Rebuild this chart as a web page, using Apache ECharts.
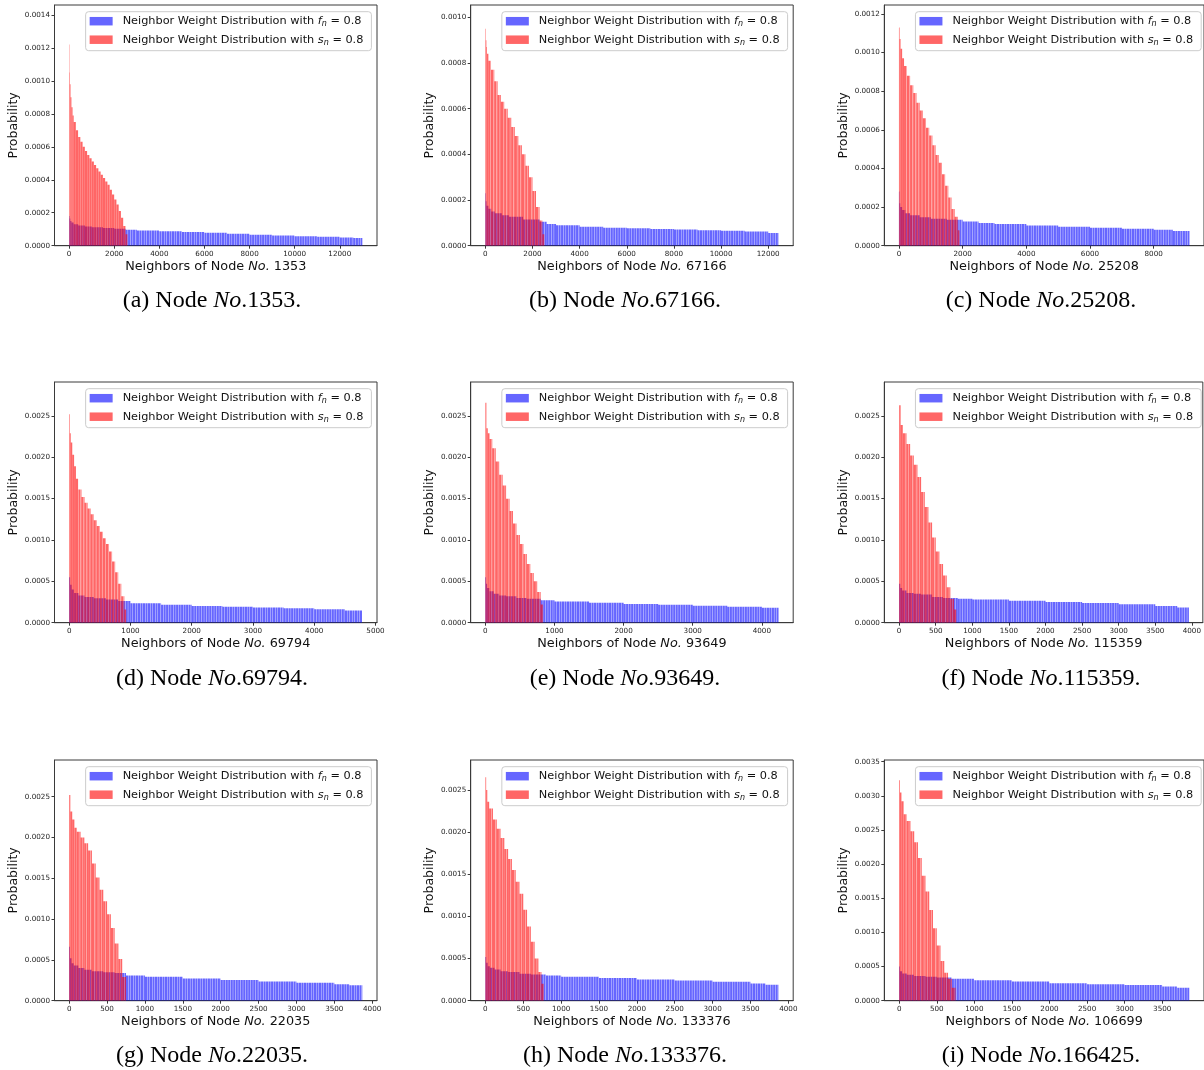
<!DOCTYPE html>
<html><head><meta charset="utf-8">
<script src="https://cdn.jsdelivr.net/npm/echarts@6/dist/echarts.min.js"></script>
<style>html,body{margin:0;padding:0;background:#fff}#c{width:1204px;height:1070px}</style>
</head><body><div id="c"></div>
<script>
// ---------------- DATA (neighbor rank, probability); a bar runs from one rank to the next; last point marks the end ----------------
const redA_x = [0,15,30,60,100,150,200,300,400,500,600,700,800,900,1000,1100,1200,1300,1400,1500,1600,1700,1800,1900,2000,2100,2200,2300,2400,2500,2580];
const redA_y = [0.00122,0.00105,0.00098,0.00090,0.00084,0.00079,0.00075,0.00070,0.00066,0.00063,0.00060,0.000575,0.00055,0.00053,0.00051,0.00049,0.00047,0.00045,0.00043,0.00041,0.00039,0.00037,0.00034,0.00031,0.00028,0.00025,0.00021,0.00017,0.00012,0.00007,0];
const blueA_x = [0,20,50,100,200,400,700,1000,1500,2000,2500,3000,4000,5000,6000,7000,8000,9000,10000,11000,12000,12600,13000];
const blueA_y = [0.00018,0.000165,0.00015,0.00014,0.00013,0.000122,0.000116,0.000112,0.000107,0.000103,0.000096,0.000092,0.000088,0.000083,0.000079,0.000073,0.000067,0.000062,0.000058,0.000054,0.00005,0.000046,0];

const redB_x = [0,20,45,70,130,240,380,520,660,800,950,1100,1250,1400,1550,1700,1850,2000,2150,2300,2420,2500];
const redB_y = [0.00095,0.00090,0.00087,0.00084,0.00081,0.00077,0.00072,0.00066,0.00063,0.00060,0.00056,0.00052,0.00048,0.00044,0.00040,0.00035,0.00030,0.00024,0.00017,0.00011,0.00005,0];
const blueB_x = [0,20,50,130,250,400,700,1000,1600,2300,2600,3000,4000,5000,6000,7000,8000,9000,10000,11000,12000,12440];
const blueB_y = [0.00023,0.000195,0.000175,0.000162,0.00015,0.000142,0.000133,0.000127,0.000115,0.000105,0.000095,0.00009,0.000083,0.000079,0.000076,0.000073,0.000071,0.000068,0.000065,0.000062,0.000056,0];

const redC_x = [0,20,50,100,160,250,350,450,550,650,750,850,950,1050,1150,1250,1350,1450,1550,1650,1750,1850,1900];
const redC_y = [0.00113,0.00107,0.00102,0.00097,0.00093,0.00088,0.00083,0.00079,0.00074,0.00070,0.00066,0.00061,0.00057,0.00052,0.00047,0.00043,0.00037,0.00031,0.00025,0.00019,0.00015,0.00008,0];
const blueC_x = [0,15,40,100,200,350,650,1000,1500,2000,2500,3000,4000,5000,6000,7000,8000,8600,9124];
const blueC_y = [0.00028,0.00022,0.0002,0.000185,0.000168,0.000158,0.000147,0.00014,0.000134,0.000125,0.000118,0.000112,0.000104,0.000098,0.000093,0.000088,0.000083,0.000076,0];

const redD_x = [0,10,25,50,80,110,150,200,250,300,350,400,450,500,550,600,650,700,750,800,850,900,930];
const redD_y = [0.00252,0.00229,0.00218,0.00203,0.00189,0.00174,0.00161,0.00152,0.00145,0.00138,0.00131,0.00124,0.00117,0.00110,0.00102,0.00095,0.00086,0.00074,0.00061,0.00047,0.00032,0.00016,0];
const blueD_x = [0,15,40,80,150,250,400,600,800,1000,1500,2000,2500,3000,3500,4000,4500,4786];
const blueD_y = [0.00055,0.00046,0.00040,0.00036,0.00033,0.00031,0.000295,0.00028,0.000262,0.000235,0.000218,0.000203,0.000194,0.000184,0.000174,0.000163,0.000148,0];

const redE_x = [0,15,35,60,100,150,200,250,300,350,400,450,500,550,600,650,700,750,800,837];
const redE_y = [0.00266,0.00235,0.00229,0.00222,0.00211,0.00195,0.00179,0.00166,0.00150,0.00135,0.00120,0.00106,0.00095,0.00083,0.00071,0.00060,0.00050,0.00037,0.00022,0];
const blueE_x = [0,10,25,60,120,200,300,450,600,800,1000,1500,2000,2500,3000,3500,4000,4242];
const blueE_y = [0.00055,0.00047,0.00042,0.00038,0.00035,0.00033,0.00032,0.00030,0.00029,0.00027,0.000255,0.00024,0.000227,0.000216,0.000205,0.000193,0.00018,0];

const redF_x = [0,20,50,100,150,200,250,300,350,400,450,500,550,600,650,700,750,785];
const redF_y = [0.00263,0.00239,0.00229,0.00216,0.00202,0.00191,0.00176,0.00158,0.00140,0.00121,0.00103,0.00086,0.00071,0.00057,0.00043,0.00029,0.00016,0];
const blueF_x = [0,15,40,100,200,300,450,600,800,1000,1500,2000,2500,3000,3500,3800,3960];
const blueF_y = [0.00047,0.00042,0.00039,0.00036,0.00035,0.00034,0.00031,0.00030,0.00029,0.00028,0.000265,0.00025,0.000237,0.000223,0.000201,0.000185,0];

const redG_x = [0,15,40,70,100,150,200,250,300,350,400,450,500,550,600,650,700,750];
const redG_y = [0.00252,0.00232,0.00222,0.00212,0.00207,0.00200,0.00193,0.00184,0.00168,0.00151,0.00136,0.00122,0.00106,0.00089,0.00070,0.00051,0.00029,0];
const blueG_x = [0,10,30,60,120,200,300,450,600,750,1000,1500,2000,2500,3000,3500,3700,3870];
const blueG_y = [0.00066,0.00052,0.00046,0.00043,0.00040,0.00038,0.00036,0.00035,0.00034,0.00031,0.000294,0.000272,0.000253,0.000236,0.00022,0.000203,0.00019,0];

const redH_x = [0,10,25,50,100,150,200,250,300,350,400,450,500,550,600,650,700,740,770];
const redH_y = [0.00265,0.00250,0.00236,0.00228,0.00215,0.00204,0.00193,0.00180,0.00168,0.00155,0.00141,0.00127,0.00108,0.00088,0.00070,0.00050,0.00034,0.00020,0];
const blueH_x = [0,10,30,60,120,200,300,450,600,800,1000,1500,2000,2500,3000,3500,3700,3870];
const blueH_y = [0.00052,0.00045,0.00041,0.00039,0.00037,0.00035,0.00034,0.00032,0.00031,0.0003,0.000285,0.00027,0.000253,0.00024,0.000225,0.000205,0.00019,0];

const redI_x = [0,10,30,60,100,150,200,250,300,350,400,450,500,550,600,650,700,750];
const redI_y = [0.00323,0.00305,0.00292,0.00273,0.00263,0.00248,0.00232,0.00209,0.00183,0.00160,0.00133,0.00106,0.00081,0.00058,0.00041,0.00032,0.00019,0];
const blueI_x = [0,10,40,100,200,350,500,700,1000,1500,2000,2500,3000,3500,3700,3860];
const blueI_y = [0.0005,0.00043,0.00040,0.00038,0.00036,0.00035,0.00034,0.00032,0.0003,0.00028,0.000255,0.00024,0.00023,0.000208,0.00019,0];

// tick labels
const xTicks12k = [0,2000,4000,6000,8000,10000,12000];
const xTicks8k = [0,2000,4000,6000,8000];
const xTicks5k = [0,1000,2000,3000,4000,5000];
const xTicks4k = [0,1000,2000,3000,4000];
const xTicks500to4000 = [0,500,1000,1500,2000,2500,3000,3500,4000];
const xTicks500to3500 = [0,500,1000,1500,2000,2500,3000,3500];
const yTicks14 = [0,0.0002,0.0004,0.0006,0.0008,0.0010,0.0012,0.0014];
const yTicks10 = [0,0.0002,0.0004,0.0006,0.0008,0.0010];
const yTicks12 = [0,0.0002,0.0004,0.0006,0.0008,0.0010,0.0012];
const yTicks25 = [0,0.0005,0.0010,0.0015,0.0020,0.0025];
const yTicks35 = [0,0.0005,0.0010,0.0015,0.0020,0.0025,0.0030,0.0035];

// labels
const panelLetters = ['a','b','c','d','e','f','g','h','i'];
const axisNodes = ['1353','67166','25208','69794','93649','115359','22035','133376','106699'];
const captionNodes = ['1353','67166','25208','69794','93649','115359','22035','133376','166425'];
const legendTexts = {fn: 'f', sn: 's'};

const panels = [
  {red:[redA_x,redA_y], blue:[blueA_x,blueA_y], xMin:-650, xMax:13650, xTicks:xTicks12k, yMax:0.00146, yTicks:yTicks14},
  {red:[redB_x,redB_y], blue:[blueB_x,blueB_y], xMin:-620, xMax:13060, xTicks:xTicks12k, yMax:0.001054, yTicks:yTicks10},
  {red:[redC_x,redC_y], blue:[blueC_x,blueC_y], xMin:-460, xMax:9580, xTicks:xTicks8k, yMax:0.001246, yTicks:yTicks12},
  {red:[redD_x,redD_y], blue:[blueD_x,blueD_y], xMin:-240, xMax:5025, xTicks:xTicks5k, yMax:0.00291, yTicks:yTicks25},
  {red:[redE_x,redE_y], blue:[blueE_x,blueE_y], xMin:-212, xMax:4454, xTicks:xTicks4k, yMax:0.00291, yTicks:yTicks25},
  {red:[redF_x,redF_y], blue:[blueF_x,blueF_y], xMin:-203, xMax:4150, xTicks:xTicks500to4000, yMax:0.00291, yTicks:yTicks25},
  {red:[redG_x,redG_y], blue:[blueG_x,blueG_y], xMin:-194, xMax:4064, xTicks:xTicks500to4000, yMax:0.00295, yTicks:yTicks25},
  {red:[redH_x,redH_y], blue:[blueH_x,blueH_y], xMin:-194, xMax:4064, xTicks:xTicks500to4000, yMax:0.002856, yTicks:yTicks25},
  {red:[redI_x,redI_y], blue:[blueI_x,blueI_y], xMin:-198, xMax:4056, xTicks:xTicks500to3500, yMax:0.003525, yTicks:yTicks35}
];

// ---------------- LAYOUT ----------------
const COLS = [54.5, 470.7, 884.3];
const GW = 322.5;
const ROWS = [5, 382, 760];
const GH = 240.7;
const CAP_X = [212, 625, 1041];
const CAP_Y = [301, 679, 1056];
const AX = '#3a3a3a';
const BLUE = 'rgba(0,0,255,0.6)';
const RED = 'rgba(255,0,0,0.6)';

function toItems(xs, ys) {
  const out = [];
  for (let i = 0; i < xs.length - 1; i++) out.push([xs[i], xs[i + 1], ys[i]]);
  return out;
}

function renderBars(params, api) {
  const x0 = api.value(0), x1 = api.value(1), y = api.value(2);
  const a = api.coord([x0, y]);
  const b = api.coord([x1, 0]);
  const color = api.visual('color');
  const pitch = 2.5, gap = 0.35;
  const children = [];
  for (let px = a[0]; px < b[0] - 0.05; px += pitch) {
    const w = Math.min(pitch - gap, b[0] - px);
    children.push({type: 'rect', shape: {x: px, y: a[1], width: w, height: b[1] - a[1]}, style: {fill: color}});
  }
  return {type: 'group', children};
}

const grids = [], xAxes = [], yAxes = [], series = [], legends = [], graphics = [];
const tickFont = {fontSize: 7.2, color: '#222', fontFamily: 'DejaVu Sans'};

panels.forEach((p, i) => {
  const col = i % 3, row = Math.floor(i / 3);
  const left = COLS[col], top = ROWS[row];
  grids.push({left, top, width: GW, height: GH, show: true, borderColor: AX, borderWidth: 1, backgroundColor: 'transparent', containLabel: false});
  xAxes.push({
    gridIndex: i, type: 'value', min: p.xMin, max: p.xMax,
    axisLine: {show: true, onZero: false, lineStyle: {color: AX, width: 1}},
    axisTick: {show: true, customValues: p.xTicks, length: 3, lineStyle: {color: AX}},
    axisLabel: Object.assign({customValues: p.xTicks, margin: 4.5, formatter: v => String(Math.round(v))}, tickFont),
    splitLine: {show: false},
    name: '{t|Neighbors of Node }{i|No.}{t| ' + axisNodes[i] + '}',
    nameLocation: 'middle', nameGap: 14,
    nameTextStyle: {rich: {
      t: {fontSize: 12.8, fontFamily: 'DejaVu Sans', color: '#111'},
      i: {fontSize: 12.8, fontFamily: 'DejaVu Sans', fontStyle: 'italic', color: '#111'}
    }}
  });
  yAxes.push({
    gridIndex: i, type: 'value', min: 0, max: p.yMax,
    axisLine: {show: true, onZero: false, lineStyle: {color: AX, width: 1}},
    axisTick: {show: true, customValues: p.yTicks, length: 3, lineStyle: {color: AX}},
    axisLabel: Object.assign({customValues: p.yTicks, margin: 4.5, formatter: v => v.toFixed(4)}, tickFont),
    splitLine: {show: false},
    name: 'Probability', nameLocation: 'middle', nameGap: 34,
    nameTextStyle: {fontSize: 12.5, fontFamily: 'DejaVu Sans', color: '#111'}
  });
  series.push({
    type: 'custom', name: 'fn', xAxisIndex: i, yAxisIndex: i, renderItem: renderBars,
    data: toItems(p.blue[0], p.blue[1]), encode: {x: [0, 1], y: 2},
    itemStyle: {color: BLUE}, silent: true, clip: true, animation: false
  });
  series.push({
    type: 'custom', name: 'sn', xAxisIndex: i, yAxisIndex: i, renderItem: renderBars,
    data: toItems(p.red[0], p.red[1]), encode: {x: [0, 1], y: 2},
    itemStyle: {color: RED}, silent: true, clip: true, animation: false
  });
  legends.push({
    data: ['fn', 'sn'], orient: 'vertical',
    right: 1204 - (left + GW) + 5.6, top: top + 6.7,
    icon: 'rect', itemWidth: 23, itemHeight: 8.5, itemGap: 6,
    padding: [4, 8, 4, 4],
    backgroundColor: 'rgba(255,255,255,0.8)', borderColor: '#cccccc', borderWidth: 1, borderRadius: 3,
    selectedMode: false,
    formatter: name => '{t0|Neighbor Weight Distribution with }{m|' + legendTexts[name] + '}{s|n}{t| = 0.8}',
    textStyle: {rich: {
      t0: {fontSize: 11.3, fontFamily: 'DejaVu Sans', color: '#111', lineHeight: 14, padding: [0, 0, 0, 5]},
      t: {fontSize: 11.3, fontFamily: 'DejaVu Sans', color: '#111', lineHeight: 14},
      m: {fontSize: 11.3, fontFamily: 'DejaVu Sans', fontStyle: 'italic', color: '#111', lineHeight: 14},
      s: {fontSize: 8, fontFamily: 'DejaVu Sans', fontStyle: 'italic', color: '#111', lineHeight: 8, verticalAlign: 'bottom'}
    }}
  });
  graphics.push({
    type: 'text', x: CAP_X[col], y: CAP_Y[row],
    style: {
      text: '{r|(' + panelLetters[i] + ') Node }{i|No}{r|.' + captionNodes[i] + '.}',
      align: 'center', verticalAlign: 'middle',
      rich: {
        r: {fontSize: 24, fontFamily: 'Liberation Serif', fill: '#000'},
        i: {fontSize: 24, fontFamily: 'Liberation Serif', fontStyle: 'italic', fill: '#000'}
      }
    }
  });
});

const chart = echarts.init(document.getElementById('c'), null, {renderer: 'canvas'});
chart.setOption({
  animation: false,
  backgroundColor: '#ffffff',
  grid: grids, xAxis: xAxes, yAxis: yAxes, series, legend: legends, graphic: graphics
});
</script></body></html>
